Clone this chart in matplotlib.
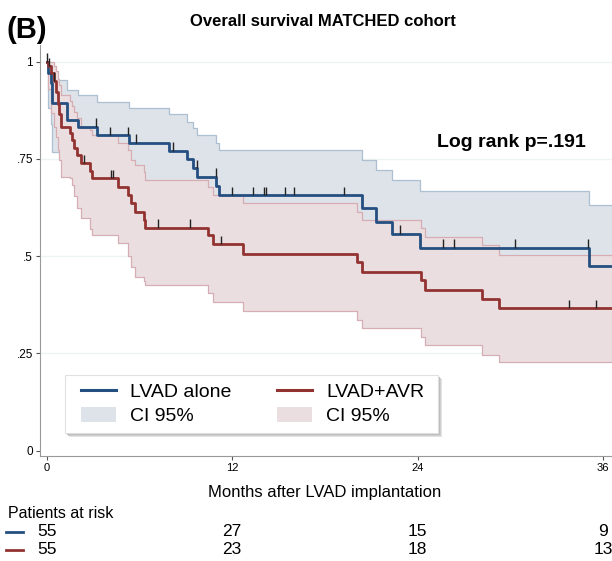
import matplotlib
matplotlib.use("Agg")
import matplotlib.pyplot as plt
import matplotlib.transforms as mtransforms
from matplotlib.lines import Line2D
from matplotlib.patches import Patch, Rectangle
import numpy as np

# Kaplan-Meier steps (months, survival, 95% CI)
blue_t = [0, 0.10, 0.26, 0.32, 1.29, 2.05, 3.23, 5.34, 7.93, 9.06, 9.44, 9.74,
          10.98, 11.16, 20.37, 21.30, 22.32, 24.15, 35.08]
blue_s = [1.0, 0.970, 0.944, 0.893, 0.850, 0.833, 0.811, 0.792, 0.771, 0.749, 0.726, 0.704,
          0.680, 0.657, 0.623, 0.588, 0.557, 0.522, 0.475]
blue_hi = [1.0, 0.998, 0.990, 0.953, 0.927, 0.914, 0.897, 0.882, 0.866, 0.846, 0.829, 0.811,
           0.790, 0.773, 0.747, 0.721, 0.696, 0.667, 0.631]
blue_lo = [1.0, 0.880, 0.840, 0.769, 0.740, 0.720, 0.700, 0.680, 0.660, 0.640, 0.610, 0.590,
           0.560, 0.530, 0.490, 0.460, 0.430, 0.390, 0.330]
blue_cens = [0.0, 3.19, 4.09, 5.28, 5.76, 8.19, 9.70, 10.93, 12.0, 13.37, 14.06, 14.19,
             15.39, 16.0, 19.23, 22.85, 25.65, 26.37, 30.31, 35.03]

red_t = [0, 0.10, 0.28, 0.47, 0.60, 0.71, 0.82, 0.92, 1.51, 1.62, 1.77, 1.94, 2.20, 2.80,
         2.91, 4.63, 5.28, 5.45, 5.71, 6.29, 6.36, 10.45, 10.78, 12.72, 20.05, 20.37, 24.21,
         24.47, 28.14, 29.28]
red_s = [1.0, 0.988, 0.970, 0.951, 0.922, 0.891, 0.866, 0.833, 0.816, 0.799, 0.777, 0.760,
         0.739, 0.720, 0.700, 0.678, 0.657, 0.636, 0.614, 0.593, 0.573, 0.554, 0.531, 0.505,
         0.486, 0.460, 0.439, 0.413, 0.390, 0.366]
red_hi = [1.0, 1.0, 0.998, 0.990, 0.975, 0.955, 0.940, 0.915, 0.900, 0.885, 0.870, 0.855,
          0.829, 0.825, 0.811, 0.790, 0.773, 0.747, 0.734, 0.717, 0.697, 0.678, 0.657, 0.637,
          0.614, 0.593, 0.572, 0.550, 0.529, 0.503]
red_lo = [1.0, 0.930, 0.867, 0.833, 0.807, 0.773, 0.747, 0.703, 0.700, 0.683, 0.655, 0.625,
          0.597, 0.571, 0.554, 0.533, 0.500, 0.473, 0.447, 0.436, 0.426, 0.404, 0.383, 0.359,
          0.336, 0.314, 0.293, 0.271, 0.246, 0.228]
red_cens = [0.17, 0.49, 2.43, 4.18, 4.26, 7.22, 9.27, 11.25, 33.78, 35.51]

risk_times = [0, 12, 24, 36]
risk_blue = [55, 27, 15, 9]
risk_red = [55, 23, 18, 13]

BLUE = "#244f80"
RED = "#923331"
BLUE_FILL, BLUE_EDGE = "#dde3e9", "#adbfd1"
RED_FILL, RED_EDGE = "#ebdee1", "#d6adb2"
T_END = 37.0
W, H = 612, 561

plt.rcParams["font.family"] = ["Liberation Sans", "DejaVu Sans"]


def px(x, y):
    # figure pixel (from top-left) -> figure fraction
    return x / W, 1 - y / H


def extend(t, *ys):
    # add a last point so the step runs to the right edge
    return [np.append(t, T_END)] + [np.append(y, y[-1]) for y in ys]


def draw_band(ax, t, lo, hi, fill, edge):
    tt, ll, hh = extend(t, lo, hi)
    ax.fill_between(tt, ll, hh, step="post", color=fill, lw=0, zorder=2)
    ax.step(tt, hh, where="post", color=edge, lw=0.9, zorder=2)
    ax.step(tt, ll, where="post", color=edge, lw=0.9, zorder=2)


def draw_curve(ax, t, s, cens, color):
    tt, ss = extend(t, s)
    ax.step(tt, ss, where="post", color=color, lw=2.0, zorder=4)
    idx = np.searchsorted(t, cens, side="right") - 1
    lvl = np.asarray(s)[idx]
    ax.vlines(cens, lvl, lvl + 0.022, color="#222222", lw=1.0, zorder=5)


fig = plt.figure(figsize=(W / 100, H / 100), dpi=100)
ax = fig.add_axes([40 / W, 105 / H, 572 / W, 411 / H])

draw_band(ax, blue_t, blue_lo, blue_hi, BLUE_FILL, BLUE_EDGE)
draw_band(ax, red_t, red_lo, red_hi, RED_FILL, RED_EDGE)
draw_curve(ax, blue_t, blue_s, blue_cens, BLUE)
draw_curve(ax, red_t, red_s, red_cens, RED)

ax.set_xlim(-0.43, 36.57)
ax.set_ylim(-0.014, 1.043)
ax.set_yticks([0, 0.25, 0.5, 0.75, 1])
ax.set_yticklabels(["0", ".25", ".5", ".75", "1"], fontsize=8.5)
ax.set_xticks(risk_times)
ax.set_xticklabels([str(v) for v in risk_times], fontsize=8)
ax.tick_params(axis="both", length=3, width=0.8, color="#555555", pad=2)
for y in [0.25, 0.5, 0.75, 1]:
    ax.axhline(y, color="#eef3f3", lw=1.0, zorder=0)
for side in ["top", "right"]:
    ax.spines[side].set_visible(False)
ax.spines["left"].set_color("#999999")
ax.spines["bottom"].set_color("#999999")
ax.spines["bottom"].set_linestyle((0, (2, 1)))

ax.text(25.25, 0.791, "Log rank p=.191", fontsize=14, fontweight="bold", va="center")

# legend box with a soft shadow, drawn by hand
bx, by = px(65, 433)
bw, bh = 373 / W, 58 / H
for off, col in [(4, "#e2e2e2"), (3, "#cfcfcf"), (2, "#bdbdbd")]:
    ax.add_patch(Rectangle((bx + off / W, by - off / H), bw, bh, transform=fig.transFigure,
                           facecolor=col, edgecolor="none", zorder=6, clip_on=False))
ax.add_patch(Rectangle((bx, by), bw, bh, transform=fig.transFigure, facecolor="white",
                       edgecolor="#e0e0e0", lw=0.8, zorder=6, clip_on=False))

handles = [Line2D([], [], color=BLUE, lw=2.2),
           Patch(facecolor=BLUE_FILL, edgecolor="none"),
           Line2D([], [], color=RED, lw=2.2),
           Patch(facecolor=RED_FILL, edgecolor="none")]
labels = ["LVAD alone", "CI 95%", "LVAD+AVR", "CI 95%"]
leg = ax.legend(handles, labels, ncol=2, loc="upper left", bbox_to_anchor=px(81, 383),
                bbox_transform=fig.transFigure, borderaxespad=0, borderpad=0,
                fontsize=14, handlelength=1.8, handleheight=0.85, handletextpad=0.72,
                columnspacing=2.35, labelspacing=0.26, frameon=False)
leg.set_zorder(7)

# titles
fig.text(*px(323, 22), "Overall survival MATCHED cohort",
         fontsize=12, fontweight="bold", ha="center", va="center")
fig.text(*px(7, 30), "(B)", fontsize=21, fontweight="bold", ha="left", va="center")

# x label and number at risk table
trans = mtransforms.blended_transform_factory(ax.transData, fig.transFigure)
ax.text(18, 1 - 492 / H, "Months after LVAD implantation", transform=trans,
        fontsize=12, ha="center", va="center")
fig.text(*px(8, 513), "Patients at risk", fontsize=11.5, ha="left", va="center")
for row_y, counts, color in [(532, risk_blue, BLUE), (550, risk_red, RED)]:
    yf = 1 - row_y / H
    fig.add_artist(Line2D([6 / W, 23 / W], [yf, yf], color=color, lw=2.0))
    for t, n in zip(risk_times, counts):
        ax.text(t, yf, str(n), transform=trans, fontsize=12.5, ha="center", va="center")

fig.savefig("out.png", dpi=100)
